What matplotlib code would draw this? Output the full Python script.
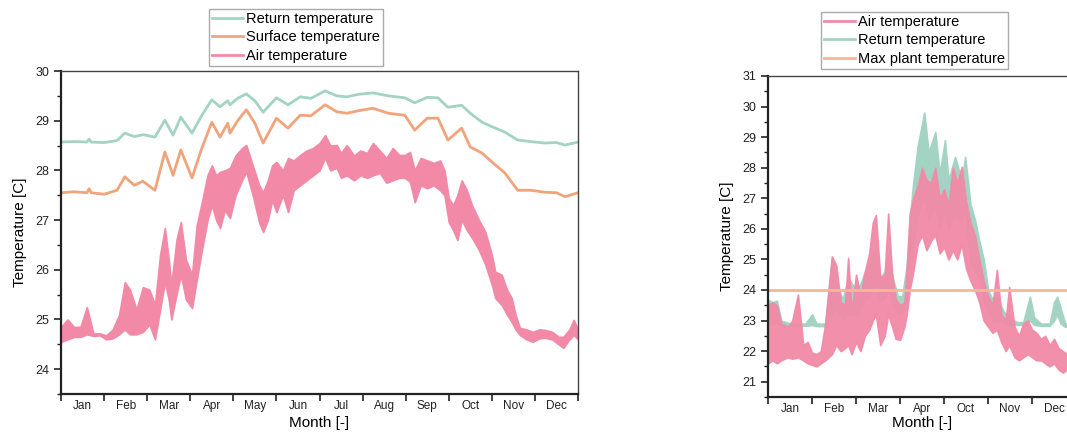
import matplotlib
matplotlib.use("Agg")
import matplotlib.pyplot as plt
from matplotlib.lines import Line2D

plt.rcParams['font.family'] = ['Liberation Sans', 'DejaVu Sans']

# ---- left chart: whole year, months 0..12 ----
months_left = ['Jan', 'Feb', 'Mar', 'Apr', 'May', 'Jun', 'Jul', 'Aug', 'Sep', 'Oct', 'Nov', 'Dec']

ret_x = [0, 0.3, 0.6, 0.65, 0.7, 1.0, 1.3, 1.48, 1.7, 1.9, 2.18, 2.41, 2.6, 2.78, 3.04,
         3.27, 3.5, 3.69, 3.87, 3.92, 4.1, 4.3, 4.5, 4.69, 5.0, 5.27, 5.55, 5.8, 6.13, 6.4,
         6.63, 6.9, 7.24, 7.6, 7.98, 8.21, 8.5, 8.75, 8.98, 9.3, 9.5, 9.77, 10.0, 10.3, 10.6,
         10.9, 11.23, 11.5, 11.7, 12]
ret_left = [28.57, 28.58, 28.57, 28.63, 28.57, 28.56, 28.6, 28.75, 28.68, 28.72, 28.67, 29.01,
            28.71, 29.07, 28.75, 29.11, 29.42, 29.28, 29.4, 29.32, 29.45, 29.54, 29.4, 29.17,
            29.46, 29.32, 29.48, 29.45, 29.6, 29.5, 29.48, 29.53, 29.56, 29.5, 29.46, 29.36,
            29.47, 29.46, 29.27, 29.31, 29.15, 28.97, 28.88, 28.77, 28.61, 28.58, 28.55, 28.56,
            28.51, 28.57]
surf_left = [27.55, 27.57, 27.55, 27.63, 27.55, 27.52, 27.6, 27.87, 27.7, 27.78, 27.6, 28.37,
             27.9, 28.41, 27.85, 28.45, 28.97, 28.67, 28.95, 28.75, 29.0, 29.22, 28.95, 28.55,
             29.05, 28.85, 29.11, 29.1, 29.32, 29.18, 29.15, 29.2, 29.25, 29.15, 29.11, 28.81,
             29.05, 29.05, 28.61, 28.85, 28.47, 28.35, 28.17, 27.95, 27.6, 27.6, 27.56, 27.55,
             27.47, 27.55]

air_x = [0.0, 0.15, 0.3, 0.45, 0.6, 0.75, 0.9, 1.05, 1.2, 1.35, 1.48, 1.6, 1.75, 1.9, 2.05,
         2.18, 2.3, 2.41, 2.5, 2.56, 2.68, 2.78, 2.9, 3.04, 3.15, 3.27, 3.4, 3.5, 3.6, 3.69,
         3.8, 3.92, 4.05, 4.2, 4.3, 4.45, 4.6, 4.69, 4.8, 4.9, 5.0, 5.15, 5.27, 5.4, 5.55,
         5.7, 5.85, 6.0, 6.13, 6.25, 6.4, 6.5, 6.63, 6.8, 6.95, 7.1, 7.24, 7.4, 7.55, 7.7,
         7.85, 7.98, 8.1, 8.21, 8.35, 8.5, 8.65, 8.8, 8.9, 9.0, 9.1, 9.2, 9.3, 9.42, 9.54,
         9.7, 9.85, 10.0, 10.08, 10.23, 10.35, 10.46, 10.55, 10.65, 10.8, 10.95, 11.1, 11.23,
         11.4, 11.55, 11.66, 11.8, 11.9, 12.0]
air_lo = [24.55, 24.6, 24.65, 24.65, 24.7, 24.67, 24.68, 24.6, 24.62, 24.7, 24.8, 24.7, 24.7,
          24.75, 24.9, 24.6, 25.2, 25.75, 25.4, 25.0, 25.5, 25.9, 25.4, 25.23, 25.8, 26.4, 27.0,
          27.3, 27.0, 26.84, 27.2, 27.04, 27.5, 27.8, 27.97, 27.5, 26.95, 26.76, 27.0, 27.4,
          27.16, 27.5, 27.16, 27.6, 27.7, 27.8, 27.9, 28.0, 28.25, 28.0, 28.05, 27.85, 27.9,
          27.8, 27.9, 27.85, 27.9, 27.95, 27.75, 27.8, 27.85, 27.85, 27.77, 27.36, 27.7, 27.64,
          27.7, 27.6, 27.5, 26.96, 26.8, 26.6, 27.0, 26.8, 26.64, 26.4, 26.1, 25.7, 25.43,
          25.29, 25.1, 24.95, 24.8, 24.69, 24.6, 24.55, 24.62, 24.63, 24.6, 24.5, 24.43, 24.6,
          24.69, 24.6]
air_hi = [24.85, 25.0, 24.85, 24.85, 25.25, 24.72, 24.72, 24.68, 24.8, 25.1, 25.75, 25.6, 25.2,
          25.65, 25.6, 25.3, 26.3, 26.84, 26.2, 25.7, 26.6, 26.96, 26.2, 25.9, 26.9, 27.36, 27.9,
          28.1, 27.9, 27.97, 28.0, 28.05, 28.3, 28.45, 28.51, 28.1, 27.7, 27.56, 27.8, 28.1,
          28.17, 28.0, 28.25, 28.2, 28.31, 28.4, 28.45, 28.55, 28.71, 28.5, 28.51, 28.35, 28.51,
          28.3, 28.4, 28.35, 28.55, 28.4, 28.25, 28.45, 28.31, 28.31, 28.37, 28.0, 28.25, 28.2,
          28.15, 28.2, 28.0, 27.44, 27.3, 27.5, 27.8, 27.6, 27.3, 27.0, 26.76, 26.3, 25.96,
          25.9, 25.6, 25.43, 25.1, 24.83, 24.8, 24.75, 24.8, 24.79, 24.75, 24.65, 24.65, 24.8,
          24.99, 24.8]

# ---- right chart: selected months 0..7 ----
months_right = ['Jan', 'Feb', 'Mar', 'Apr', 'Oct', 'Nov', 'Dec']

rair_x = [0.0, 0.1, 0.2, 0.3, 0.45, 0.55, 0.68, 0.8, 0.9, 1.0, 1.1, 1.2, 1.3, 1.45, 1.55,
          1.65, 1.75, 1.82, 1.9, 2.0, 2.1, 2.2, 2.3, 2.38, 2.45, 2.55, 2.65, 2.73, 2.82, 2.9,
          3.0, 3.1, 3.15, 3.22, 3.3, 3.4, 3.5, 3.6, 3.7, 3.8, 3.9, 4.0, 4.1, 4.2, 4.3, 4.4,
          4.5, 4.6, 4.7, 4.8, 4.9, 5.0, 5.1, 5.2, 5.3, 5.4, 5.48, 5.6, 5.7, 5.8, 5.9, 6.0,
          6.1, 6.2, 6.3, 6.4, 6.5, 6.6, 6.7, 6.8, 6.9, 7.0]
rair_lo = [21.6, 21.7, 21.6, 21.7, 21.8, 21.75, 21.8, 21.7, 21.6, 21.55, 21.5, 21.6, 21.7,
           21.9, 22.2, 22.0, 22.1, 22.2, 21.9, 22.3, 22.0, 22.5, 22.7, 23.0, 23.2, 22.2, 22.5,
           23.2, 22.8, 22.4, 22.37, 22.8, 23.2, 24.0, 24.6, 25.5, 25.8, 25.3, 25.6, 25.8, 25.2,
           25.4, 25.0, 25.3, 25.0, 25.5, 24.7, 24.3, 24.0, 23.6, 23.0, 22.8, 22.6, 22.7, 22.3,
           22.0, 22.2, 21.8, 21.7, 21.8, 21.9, 21.8, 21.7, 21.7, 21.6, 21.5, 21.6, 21.4, 21.3,
           21.4, 21.5, 21.5]
rair_hi = [23.5, 23.6, 23.5, 22.9, 22.8, 23.0, 23.85, 22.2, 22.3, 21.95, 21.9, 22.0, 22.9,
           25.1, 24.8, 23.6, 23.5, 25.05, 23.3, 24.5, 23.8, 24.6, 25.2, 26.2, 26.45, 24.4, 24.5,
           26.5, 24.5, 23.7, 23.5, 23.6, 24.6, 26.5, 27.0, 27.4, 28.0, 27.6, 27.5, 28.0, 27.0,
           27.3, 26.8, 28.0, 27.5, 28.03, 26.9, 26.2, 25.8, 25.0, 24.3, 23.8, 23.5, 24.66, 23.2,
           23.0, 24.1, 22.8, 22.5, 22.9, 23.0, 22.7, 22.6, 22.4, 22.5, 22.2, 22.4, 22.1, 22.0,
           21.9, 22.0, 22.0]

rret_x = [0.0, 0.1, 0.2, 0.3, 0.5, 0.7, 0.85, 1.0, 1.1, 1.3, 1.45, 1.55, 1.7, 1.82, 2.0, 2.1,
          2.2, 2.3, 2.45, 2.55, 2.65, 2.73, 2.85, 2.95, 3.05, 3.15, 3.22, 3.3, 3.4, 3.55, 3.65,
          3.8, 3.9, 4.02, 4.1, 4.25, 4.4, 4.48, 4.6, 4.7, 4.8, 4.9, 5.0, 5.1, 5.2, 5.35, 5.5,
          5.65, 5.8, 5.95, 6.05, 6.2, 6.4, 6.5, 6.57, 6.65, 6.75, 7.0]
rret_lo = [22.9, 22.9, 22.9, 22.85, 22.83, 22.82, 22.83, 22.85, 22.82, 22.82, 23.2, 23.4, 23.0,
           23.2, 23.2, 23.3, 23.7, 23.8, 24.2, 23.6, 23.7, 24.0, 23.5, 23.25, 23.3, 23.7, 24.5,
           25.5, 26.5, 27.0, 26.3, 26.8, 26.0, 26.62, 26.0, 26.5, 26.2, 26.6, 24.9, 24.66, 24.4,
           23.6, 23.3, 23.0, 23.0, 22.9, 22.86, 22.86, 22.86, 23.0, 22.86, 22.83, 22.83, 23.0,
           23.2, 22.9, 22.8, 22.8]
rret_hi = [23.68, 23.6, 23.65, 23.0, 22.9, 22.9, 22.9, 23.2, 22.9, 22.9, 25.0, 24.2, 23.7, 24.4,
           24.0, 24.2, 24.6, 24.9, 25.3, 24.4, 24.6, 25.1, 24.3, 23.8, 23.8, 24.8, 26.3, 27.5,
           28.7, 29.8, 28.5, 29.17, 27.8, 28.9, 27.6, 28.35, 27.6, 28.35, 26.8, 26.3, 25.6, 25.0,
           24.0, 23.7, 23.8, 23.3, 23.1, 22.95, 22.95, 23.78, 23.1, 22.9, 22.9, 23.6, 23.78,
           23.4, 22.9, 22.9]
max_plant = 24.0

c_ret = '#a3d4c3'
c_surf = '#f1a47c'
c_air = '#f28aa7'
c_max = '#f4b893'


def style_axes(ax, n_months, labels, ylo, yhi, ymajor):
    ax.set_xlim(0, n_months)
    ax.set_ylim(ylo, yhi)
    ax.set_xticks(range(n_months + 1))
    ax.set_xticklabels([])
    ax.set_xticks([i + 0.5 for i in range(n_months)], minor=True)
    ax.set_xticklabels(labels, minor=True)
    ax.tick_params(axis='x', which='major', direction='out', length=5, width=1.2, colors='#222222')
    ax.tick_params(axis='x', which='minor', length=0, pad=4, labelsize=8.5, labelcolor='#222222')
    ax.set_yticks(ymajor)
    ax.set_yticks([v + 0.5 for v in ymajor[:-1]] + [ymajor[0] - 0.5], minor=True)
    ax.tick_params(axis='y', which='major', direction='out', length=5, width=1.2, labelsize=9,
                   labelcolor='#222222', colors='#222222')
    ax.tick_params(axis='y', which='minor', direction='out', length=3, width=1.0, colors='#222222')
    ax.spines['left'].set_linewidth(1.6)
    ax.spines['bottom'].set_linewidth(1.6)
    ax.spines['left'].set_color('#222222')
    ax.spines['bottom'].set_color('#222222')
    ax.spines['top'].set_linewidth(1.0)
    ax.spines['right'].set_linewidth(1.0)
    ax.spines['top'].set_color('#444444')
    ax.spines['right'].set_color('#444444')
    ax.set_xlabel('Month [-]', fontsize=11, labelpad=3)
    ax.set_ylabel('Temperature [C]', fontsize=11, labelpad=6)


legend_kw = dict(loc='upper left', fontsize=10.5, frameon=True, fancybox=False,
                 edgecolor='#aaaaaa', framealpha=1, handlelength=2.1, handletextpad=0.25,
                 labelspacing=0.3, borderpad=0.2, borderaxespad=0)

fig = plt.figure(figsize=(10.67, 4.34), dpi=100)

# left
ax1 = fig.add_axes([0.0572, 0.0922, 0.4845, 0.7442])
ax1.plot(ret_x, ret_left, color=c_ret, lw=2.0)
ax1.plot(ret_x, surf_left, color=c_surf, lw=2.0)
ax1.fill_between(air_x, air_lo, air_hi, color=c_air, lw=1.2, edgecolor=c_air)
style_axes(ax1, 12, months_left, 23.5, 30, [24, 25, 26, 27, 28, 29, 30])
h1 = [Line2D([], [], color=c_ret, lw=2), Line2D([], [], color=c_surf, lw=2),
      Line2D([], [], color=c_air, lw=2)]
fig.legend(h1, ['Return temperature', 'Surface temperature', 'Air temperature'],
           bbox_to_anchor=(209 / 1067, 1 - 9 / 434), **legend_kw)

# right
ax2 = fig.add_axes([0.7198, 0.0853, 0.2887, 0.7396])
ax2.fill_between(rret_x, rret_lo, rret_hi, color=c_ret, lw=1.2, edgecolor=c_ret)
ax2.fill_between(rair_x, rair_lo, rair_hi, color=c_air, lw=1.2, edgecolor=c_air, alpha=0.95)
ax2.axhline(max_plant, color=c_max, lw=2.0)
style_axes(ax2, 7, months_right, 20.5, 31, list(range(21, 32)))
ax2.set_yticks([v + 0.5 for v in range(20, 31)], minor=True)
ax2.xaxis.labelpad = 1
h2 = [Line2D([], [], color=c_air, lw=2), Line2D([], [], color=c_ret, lw=2),
      Line2D([], [], color=c_max, lw=2)]
fig.legend(h2, ['Air temperature', 'Return temperature', 'Max plant temperature'],
           bbox_to_anchor=(821 / 1067, 1 - 12 / 434), **legend_kw)

fig.savefig('out.png', dpi=100)
